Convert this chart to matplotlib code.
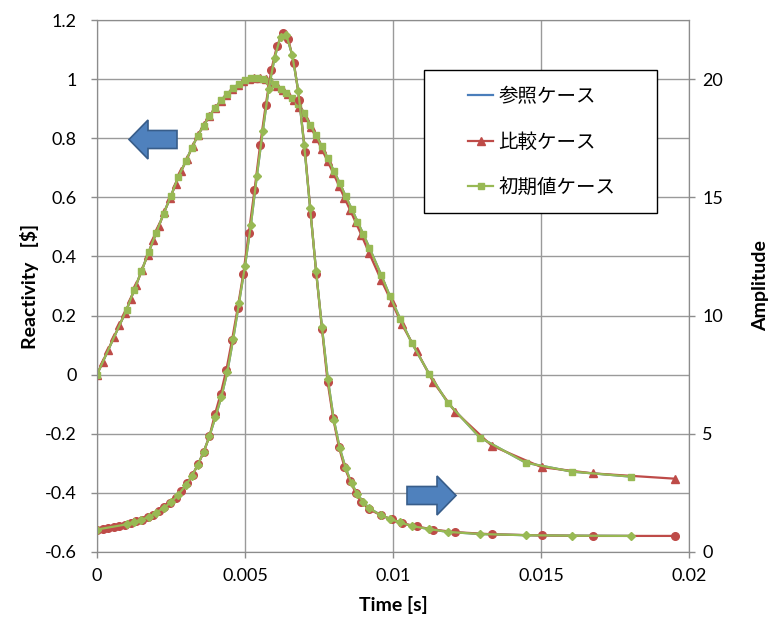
import numpy as np
import matplotlib
matplotlib.use("Agg")
import matplotlib.pyplot as plt
from matplotlib.patches import FancyArrow, Rectangle
from matplotlib.ticker import FuncFormatter

plt.rcParams['font.family'] = ['Lato', 'Noto Sans CJK JP', 'DejaVu Sans']

# 初期値ケース (green) : time [s], reactivity [$], amplitude
t_init = [0, 0.001, 0.00125, 0.0015, 0.00175, 0.002, 0.00225, 0.0025, 0.00275,
          0.003, 0.0032, 0.0034, 0.0036, 0.0038, 0.004, 0.0042, 0.0044, 0.0046,
          0.0048, 0.005, 0.0052, 0.0054, 0.0056, 0.0058, 0.006, 0.0062, 0.0064,
          0.0066, 0.0068, 0.007, 0.0072, 0.0074, 0.0076, 0.0078, 0.008, 0.0082,
          0.0084, 0.0086, 0.0088, 0.009, 0.0092, 0.0096, 0.0099, 0.01024,
          0.01063, 0.01122, 0.01185, 0.01294, 0.01449, 0.01604, 0.01804]
rho_init = [0.0, 0.22, 0.285, 0.35, 0.415, 0.48, 0.545, 0.605, 0.67,
            0.722, 0.767, 0.808, 0.843, 0.875, 0.903, 0.93, 0.95, 0.969,
            0.985, 0.996, 1.003, 1.004, 1.002, 0.995, 0.983, 0.968, 0.952,
            0.937, 0.915, 0.885, 0.845, 0.81, 0.772, 0.732, 0.69, 0.648,
            0.604, 0.562, 0.518, 0.475, 0.43, 0.338, 0.265, 0.19,
            0.108, 0.003, -0.095, -0.213, -0.298, -0.328, -0.345]
amp_init = [0.95, 1.17, 1.26, 1.37, 1.48, 1.66, 1.87, 2.1, 2.43,
            2.82, 3.2, 3.68, 4.22, 4.9, 5.7, 6.55, 7.6, 9.0,
            10.55, 12.1, 13.85, 15.9, 17.8, 19.6, 20.9, 21.8, 21.85,
            21.0, 19.5, 17.2, 14.55, 11.9, 9.5, 7.3, 5.6, 4.4,
            3.55, 2.9, 2.45, 2.1, 1.85, 1.55, 1.4, 1.25,
            1.1, 0.97, 0.85, 0.76, 0.71, 0.69, 0.68]

# 参照ケース (blue) - lies under the green curves
t_ref = t_init
rho_ref = rho_init
amp_ref = amp_init

# 比較ケース (red)
t_cmp = [0, 0.00019, 0.00038, 0.00057, 0.00076, 0.00095, 0.00114, 0.00133,
         0.00152, 0.00171, 0.0019, 0.00209, 0.00228, 0.00247, 0.00266, 0.00285,
         0.00304, 0.00323, 0.00342, 0.00361, 0.0038, 0.00399, 0.00418, 0.00437,
         0.00456, 0.00475, 0.00494, 0.00513, 0.00532, 0.00551, 0.0057, 0.00589,
         0.00608, 0.00627, 0.00646, 0.00665, 0.00684, 0.00703, 0.00722, 0.00741,
         0.0076, 0.00779, 0.00798, 0.00817, 0.00836, 0.00855, 0.00874, 0.00893,
         0.0092, 0.0096, 0.00996, 0.0103, 0.0108, 0.01136, 0.0121, 0.01333,
         0.01502, 0.01675, 0.01953]
rho_cmp = [0.0, 0.043, 0.085, 0.127, 0.168, 0.208, 0.256, 0.305,
           0.355, 0.405, 0.455, 0.503, 0.552, 0.598, 0.645, 0.69,
           0.73, 0.773, 0.812, 0.845, 0.875, 0.902, 0.927, 0.947,
           0.966, 0.98, 0.992, 1.0, 1.004, 1.003, 0.999, 0.99,
           0.978, 0.963, 0.948, 0.93, 0.905, 0.873, 0.838, 0.8,
           0.762, 0.722, 0.682, 0.64, 0.598, 0.557, 0.515, 0.473,
           0.41, 0.32, 0.245, 0.17, 0.08, -0.025, -0.125, -0.24,
           -0.313, -0.334, -0.352]
amp_cmp = [0.95, 0.98, 1.01, 1.05, 1.09, 1.15, 1.22, 1.29,
           1.37, 1.46, 1.58, 1.72, 1.9, 2.08, 2.3, 2.58,
           2.9, 3.27, 3.72, 4.25, 4.9, 5.85, 6.7, 7.7,
           8.95, 10.3, 11.75, 13.5, 15.3, 17.2, 18.9, 20.4,
           21.4, 21.95, 21.7, 20.7, 19.1, 16.9, 14.3, 11.75,
           9.45, 7.2, 5.65, 4.45, 3.6, 3.0, 2.5, 2.12,
           1.8, 1.55, 1.38, 1.22, 1.08, 0.95, 0.84, 0.75,
           0.7, 0.68, 0.68]

labels = ['参照ケース', '比較ケース', '初期値ケース']
c_blue = '#4A7EBB'
c_red = '#BE4B48'
c_green = '#98B954'

fig = plt.figure(figsize=(7.78, 6.30), dpi=100)
ax1 = fig.add_axes([97/778, 1-552/630, 592/778, 532/630])
ax2 = ax1.twinx()

# reactivity on the left axis
l1, = ax1.plot(t_ref, rho_ref, color=c_blue, lw=1.6, label=labels[0])
l2, = ax1.plot(t_cmp, rho_cmp, color=c_red, lw=1.6, marker='^', ms=5.5,
               mec=c_red, mfc=c_red, label=labels[1])
l3, = ax1.plot(t_init, rho_init, color=c_green, lw=1.6, marker='s', ms=4.5,
               mec=c_green, mfc=c_green, label=labels[2])

# amplitude on the right axis
ax2.plot(t_ref, amp_ref, color=c_blue, lw=1.6)
ax2.plot(t_cmp, amp_cmp, color=c_red, lw=1.6, marker='o', ms=5.5,
         mec=c_red, mfc=c_red)
ax2.plot(t_init, amp_init, color=c_green, lw=1.6, marker='D', ms=4,
         mec=c_green, mfc=c_green)

ax1.set_xlim(0, 0.02)
ax1.set_ylim(-0.6, 1.2)
ax2.set_ylim(0, 22.5)
ax1.set_xticks(np.arange(0, 0.0201, 0.005))
ax1.set_yticks(np.arange(-0.6, 1.21, 0.2))
ax2.set_yticks([0, 5, 10, 15, 20])
fmt = FuncFormatter(lambda v, p: '%g' % round(v, 6))
ax1.xaxis.set_major_formatter(fmt)
ax1.yaxis.set_major_formatter(fmt)

ax1.grid(True, color='#9A9A9A', lw=1.0)
ax1.set_axisbelow(True)
for a in (ax1, ax2):
    for s in a.spines.values():
        s.set_color('#8C8C8C')
    a.tick_params(colors='#8C8C8C', labelcolor='black', labelsize=13,
                  length=4.5, width=1.0)
# pads are in points
ax1.tick_params(axis='x', pad=7)
ax1.tick_params(axis='y', pad=10.3)
ax2.tick_params(axis='y', pad=5)

ax1.set_xlabel('Time [s]', fontsize=14, fontweight='bold', labelpad=8.5)
ax1.set_ylabel('Reactivity   [\\$]', fontsize=14, fontweight='bold', labelpad=4)
ax2.set_ylabel('Amplitude', fontsize=14, fontweight='bold', labelpad=21)

# legend box drawn separately so the entries sit centred like Excel
box = Rectangle((0.5524, 0.6372), 0.3936, 0.2688, transform=ax2.transAxes,
                facecolor='white', edgecolor='black', lw=1.0, zorder=4)
ax2.add_patch(box)
leg = ax2.legend(handles=[l1, l2, l3], loc='center left',
                 bbox_to_anchor=(0.6267, 0.7707), frameon=False,
                 prop={'family': ['Noto Sans CJK JP', 'DejaVu Sans'], 'size': 14},
                 labelspacing=1.25, handlelength=1.3, handletextpad=0.25,
                 borderpad=0, borderaxespad=0)
leg.set_zorder(5)

# block arrows showing which axis each curve belongs to
for x0, dx, y0 in [(1.77, -0.48, 4.905), (4.07, 0.49, 1.345)]:
    ar = FancyArrow(x0, y0, dx, 0, width=0.18, head_width=0.39,
                    head_length=0.19, length_includes_head=True,
                    transform=fig.dpi_scale_trans, facecolor='#4F81BD',
                    edgecolor='#385D8A', lw=1.2)
    fig.patches.append(ar)

fig.savefig('out.png', dpi=100)
